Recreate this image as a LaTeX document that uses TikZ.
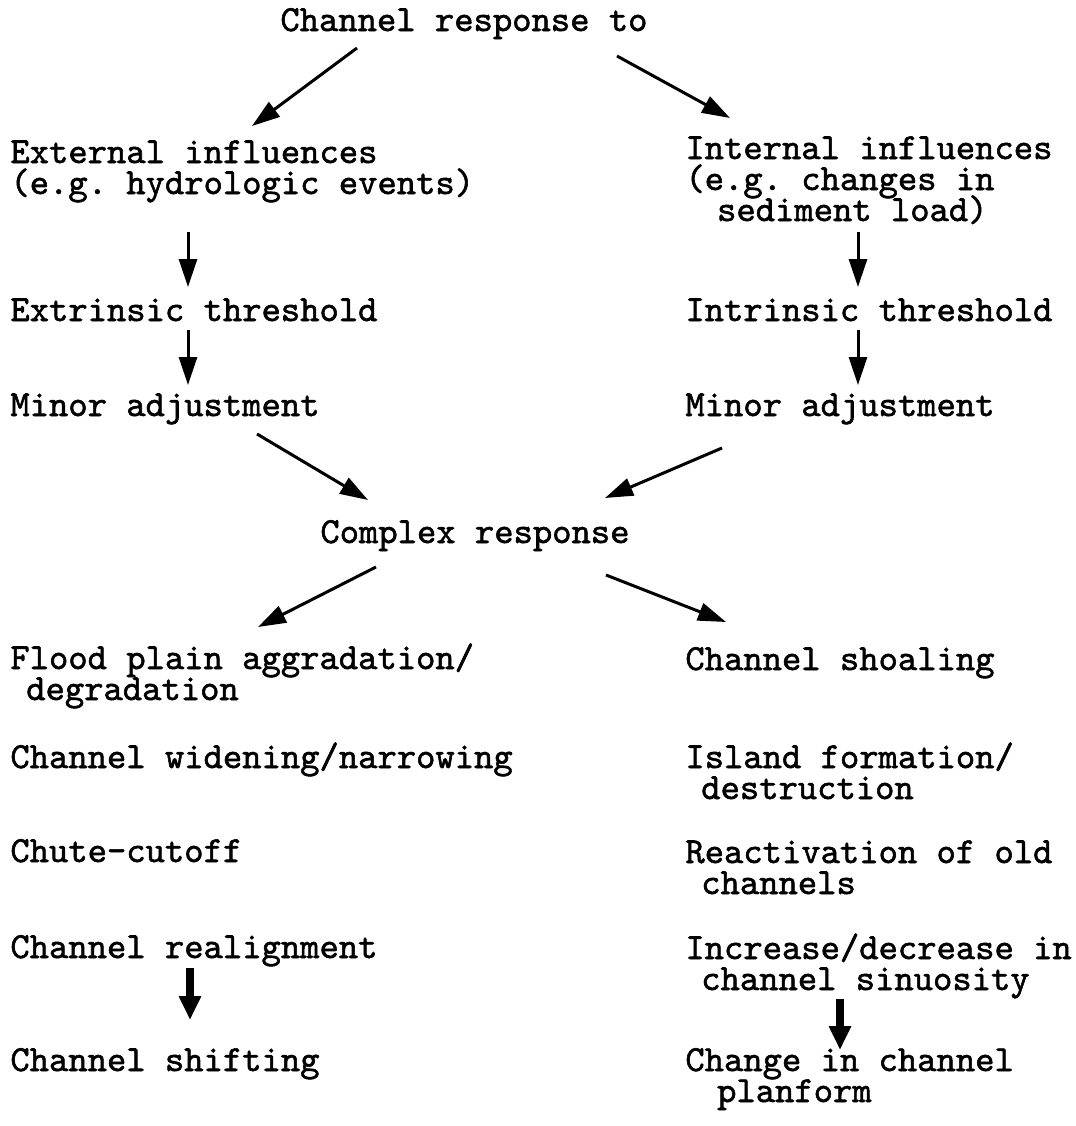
\documentclass[tikz,border=0pt]{standalone}
\usepackage{fontspec}
\setmonofont[FakeBold=1.5]{lmmono10-regular.otf}
\usetikzlibrary{arrows.meta, positioning}

\tikzset{
  item/.style={anchor=base west, inner sep=0pt, align=left,
               font={\ttfamily\fontsize{18.4}{15.5}\selectfont\lineskiplimit=-20pt}},
  arr/.style={line width=1.5pt, -{Triangle[length=14pt, width=9pt]}},
  bigarr/.style={line width=3.8pt, -{Triangle[length=12pt, width=10.5pt]}}
}

\begin{document}
\begin{tikzpicture}[x=0.5pt, y=-0.5pt]
  \useasboundingbox (0,0) rectangle (1076,1126);

  % texts of the chart (base = last line)
  \node[item] (top) at (280,31) {Channel response to};
  \node[item] (ext) at (10,194) {External influences\\(e.g. hydrologic events)};
  \node[item] (int) at (685,221) {Internal influences\\(e.g. changes in\\\hspace*{2ex}sediment load)};
  \node[item] (exth) at (10,321) {Extrinsic threshold};
  \node[item] (inth) at (685,321) {Intrinsic threshold};
  \node[item] (minl) at (10,416) {Minor adjustment};
  \node[item] (minr) at (685,416) {Minor adjustment};
  \node[item] (cplx) at (320,543) {Complex response};
  \node[item] (flood) at (10,700) {Flood plain aggradation/\\\hspace*{1ex}degradation};
  \node[item] (widen) at (10,768) {Channel widening/narrowing};
  \node[item] (chute) at (10,862) {Chute-cutoff};
  \node[item] (realign) at (10,958) {Channel realignment};
  \node[item] (shifting) at (10,1071) {Channel shifting};
  \node[item] (shoal) at (685,670) {Channel shoaling};
  \node[item] (island) at (685,799) {Island formation/\\\hspace*{1ex}destruction};
  \node[item] (react) at (685,894) {Reactivation of old\\\hspace*{1ex}channels};
  \node[item] (sinu) at (685,990) {Increase/decrease in\\\hspace*{1ex}channel sinuosity};
  \node[item] (plan) at (685,1102) {Change in channel\\\hspace*{2ex}planform};

  % arrows
  \draw[arr] ([shift={(77,17)}]top.base west) -- ([shift={(242,-68)}]ext.base west);
  \draw[arr] ([shift={(337,25)}]top.base west) -- ([shift={(45,-103)}]int.base west);
  \draw[arr] ([shift={(178,38)}]ext.base west) -- ([shift={(178,-34)}]exth.base west);
  \draw[arr] ([shift={(173,11)}]int.base west) -- ([shift={(173,-34)}]inth.base west);
  \draw[arr] ([shift={(178,9)}]exth.base west) -- ([shift={(178,-31)}]minl.base west);
  \draw[arr] ([shift={(173,9)}]inth.base west) -- ([shift={(173,-31)}]minr.base west);
  \draw[arr] ([shift={(247,18)}]minl.base west) -- ([shift={(48,-43)}]cplx.base west);
  \draw[arr] ([shift={(37,32)}]minr.base west) -- ([shift={(285,-45)}]cplx.base west);
  \draw[arr] ([shift={(56,24)}]cplx.base west) -- ([shift={(248,-73)}]flood.base west);
  \draw[arr] ([shift={(286,32)}]cplx.base west) -- ([shift={(41,-48)}]shoal.base west);
  \draw[bigarr] ([shift={(180,10)}]realign.base west) -- ([shift={(180,-51)}]shifting.base west);
  \draw[bigarr] ([shift={(155,9)}]sinu.base west) -- ([shift={(155,-52)}]plan.base west);
\end{tikzpicture}
\end{document}
